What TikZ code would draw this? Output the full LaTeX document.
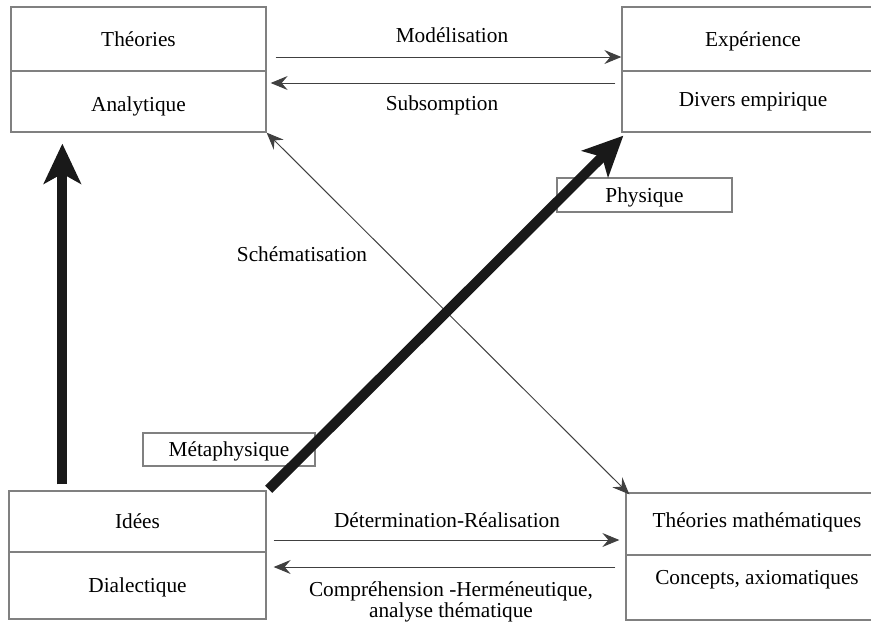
\documentclass[tikz,border=0pt]{standalone}
\usepackage{fontspec}
\setmainfont{Liberation Serif}
\usetikzlibrary{arrows.meta}
\definecolor{boxgray}{gray}{0.5}
\definecolor{linegray}{gray}{0.25}
\definecolor{ink}{gray}{0.1}
\begin{document}
\begin{tikzpicture}[x=1pt,y=-1pt,
  font=\fontsize{21.3}{25}\selectfont,
  cell/.style={draw=boxgray, line width=1.3pt, inner sep=0pt, text height=14pt, text depth=0pt},
  tagbox/.style={draw=boxgray, line width=1.1pt, inner sep=0pt, text height=14pt, text depth=0pt},
  lbl/.style={inner sep=0pt, text height=14pt, text depth=0pt},
  thinarrow/.style={draw=linegray, line width=1pt, -{Stealth[length=17pt,width=14pt,inset=6pt]}},
  bigarrow/.style={draw=ink, line width=10pt, -{Stealth[length=40pt,width=37pt,inset=10pt]}}
]
\useasboundingbox (0,0) rectangle (871,624);

% boxes
\node[cell, minimum width=255pt, minimum height=64pt] (theo) at (138.5,39) {Théories};
\node[cell, minimum width=255pt, minimum height=61pt, text height=19pt] (ana) at (138.5,101.5) {Analytique};
\node[cell, minimum width=262pt, minimum height=64pt] (exp) at (753,39) {Expérience};
\node[cell, minimum width=262pt, minimum height=61pt, text depth=4pt] (div) at (753,101.5) {Divers empirique};
\node[cell, minimum width=257pt, minimum height=61pt] (idees) at (137.5,521.5) {Idées};
\node[cell, minimum width=257pt, minimum height=67pt] (dial) at (137.5,585.5) {Dialectique};
\node[cell, minimum width=262pt, minimum height=62pt, text depth=7pt] (mathth) at (757,524) {Théories mathématiques};
\node[cell, minimum width=262pt, minimum height=65pt, text depth=20pt] (concepts) at (757,587.5) {Concepts, axiomatiques};

% tag boxes
\node[tagbox, minimum width=175pt, minimum height=34pt] (phys) at (644.5,195) {Physique};
\node[tagbox, minimum width=172pt, minimum height=33pt] (meta) at (229,449.5) {Métaphysique};

% labels
\node[lbl] (model) at (452,35) {Modélisation};
\node[lbl] (subs) at (442,103.5) {Subsomption};
\node[lbl] (schema) at (302,254.5) {Schématisation};
\node[lbl] (determ) at (447,520) {Détermination-Réalisation};
\node[inner sep=0pt, align=center, font=\fontsize{21.3}{17.5}\selectfont, anchor=base] (compr) at (451,617) {Compréhension -Herméneutique,\\analyse thématique};

% connectors
\draw[thinarrow] ([xshift=9pt,yshift=-18pt]theo.east) -- ([yshift=-18pt]exp.west);
\draw[thinarrow] ([xshift=-6pt,yshift=18.5pt]div.west) -- ([xshift=4pt,yshift=18.5pt]ana.east);
\draw[thinarrow] ([xshift=7pt,yshift=-18.5pt]idees.east) -- ([xshift=-6pt,yshift=-16pt]mathth.west);
\draw[thinarrow] ([xshift=-10pt,yshift=20.5pt]concepts.west) -- ([xshift=7pt,yshift=18.5pt]dial.east);
\draw[thinarrow, {Stealth[length=17pt,width=14pt,inset=6pt]}-{Stealth[length=17pt,width=14pt,inset=6pt]}] (ana.south east) -- ([xshift=4pt,yshift=-2pt]mathth.north west);

\draw[bigarrow] ([xshift=54pt,yshift=6pt]idees.north west) -- ([xshift=52pt,yshift=-11pt]ana.south west);
\draw[bigarrow] ([xshift=2pt,yshift=1pt]idees.north east) -- ([xshift=2pt,yshift=-3pt]div.south west);
\end{tikzpicture}
\end{document}
